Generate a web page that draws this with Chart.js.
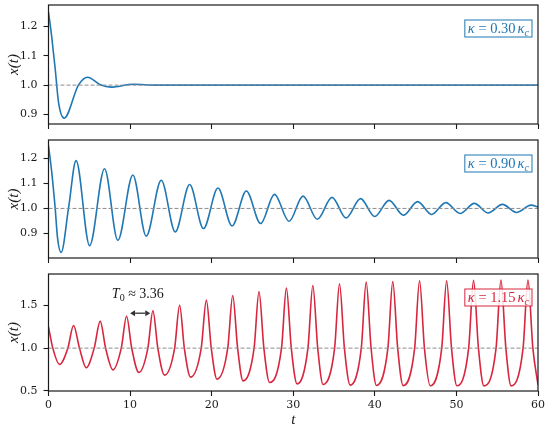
<!DOCTYPE html>
<html>
<head>
<meta charset="utf-8">
<script src="https://cdn.jsdelivr.net/npm/chart.js@4.4.1/dist/chart.umd.min.js"></script>
<style>
  html, body { margin: 0; padding: 0; background: #fff; }
  #fig { position: relative; width: 550px; height: 432px; }
  #fig canvas { position: absolute; left: 0; }
</style>
</head>
<body>
<div id="fig">
  <canvas id="panel1" width="550" height="135" style="top:0px"></canvas>
  <canvas id="panel2" width="550" height="135" style="top:135px"></canvas>
  <canvas id="panel3" width="550" height="162" style="top:270px"></canvas>
</div>
<script>
// ---- data ----
const X_TICKS = [0, 10, 20, 30, 40, 50, 60];
const Y_TICKS_1 = [0.9, 1.0, 1.1, 1.2];
const Y_TICKS_2 = [0.9, 1.0, 1.1, 1.2];
const Y_TICKS_3 = [0.5, 1.0, 1.5];
const KAPPA_LABELS = ['0.30', '0.90', '1.15'];
const REF_LEVEL = 1.0;

// kappa = 0.30 kc : strongly damped
const T1 = [0, 0.37, 0.82, 1.23, 1.92, 3.67, 4.78, 6.42, 7.65, 10.4, 13.2, 60];
const X1 = [1.25, 1.171, 1.056, 0.941, 0.887, 1.0, 1.027, 1.0, 0.993, 1.003, 1.0, 1.0];

// kappa = 0.90 kc : slowly damped
const T2 = [0, 0.37, 0.82, 1.1, 1.55, 2.45, 3.38, 5.04, 6.87, 8.5, 10.34, 11.98, 13.82, 15.54,
  17.3, 19.0, 20.77, 22.5, 24.25, 26.0, 27.7, 29.48, 31.2, 32.95, 34.75, 36.47, 38.25, 39.99,
  41.75, 43.5, 45.25, 46.95, 48.7, 50.45, 52.2, 53.9, 55.65, 57.35, 59.15, 60];
const X2 = [1.25, 1.152, 1.0, 0.885, 0.825, 1.0, 1.19, 0.852, 1.158, 0.873, 1.133, 0.89, 1.112, 0.907,
  1.095, 0.92, 1.081, 0.93, 1.069, 0.94, 1.056, 0.949, 1.049, 0.957, 1.044, 0.962, 1.039, 0.968,
  1.032, 0.973, 1.027, 0.976, 1.023, 0.98, 1.02, 0.982, 1.016, 0.984, 1.013, 1.006];

// kappa = 1.15 kc : growing to a limit cycle
const T3 = [0, 0.53, 1.35, 2.37, 3.07, 3.8, 4.62, 5.6, 6.34, 7.0, 7.9, 8.92, 9.57, 10.2, 11.08,
  12.18, 12.8, 13.4, 14.23, 15.46, 16.07, 16.65, 17.42, 18.72, 19.35, 19.95, 20.65, 21.97, 22.58,
  23.18, 23.85, 25.2, 25.8, 26.4, 27.1, 28.56, 29.16, 29.76, 30.47, 31.8, 32.4, 33.0, 33.66,
  35.07, 35.67, 36.27, 36.98, 38.34, 38.94, 39.54, 40.2, 41.6, 42.2, 42.8, 43.47, 44.88, 45.48,
  46.08, 46.79, 48.2, 48.8, 49.4, 50.06, 51.5, 52.1, 52.7, 53.37, 54.86, 55.46, 56.06, 56.7,
  58.17, 58.77, 59.37, 60];
const X3 = [1.25, 1.0, 0.81, 1.0, 1.265, 1.0, 0.77, 1.0, 1.317, 1.0, 0.745, 1.0, 1.375, 1.0, 0.714,
  1.0, 1.438, 1.0, 0.683, 1.0, 1.504, 1.0, 0.66, 1.0, 1.563, 1.0, 0.636, 1.0, 1.617,
  1.0, 0.616, 1.0, 1.664, 1.0, 0.597, 1.0, 1.704, 1.0, 0.581, 1.0, 1.735, 1.0, 0.573,
  1.0, 1.755, 1.0, 0.566, 1.0, 1.775, 1.0, 0.562, 1.0, 1.78, 1.0, 0.56, 1.0, 1.79,
  1.0, 0.558, 1.0, 1.79, 1.0, 0.558, 1.0, 1.795, 1.0, 0.557, 1.0, 1.80, 1.0, 0.557,
  1.0, 1.80, 1.0, 0.57];

// period annotation on the bottom panel (data units)
const PERIOD_TEXT = '3.36';
const ARROW_T = [10.0, 12.47];
const ARROW_Y = 1.41;
const PERIOD_TEXT_AT = [10.95, 1.645];

const BLUE = '#1f77b4';
const RED = '#d7263d';
const INK = '#1a1a1a';
const TICK_FONT = { family: '"DejaVu Serif", serif', size: 11 };
const MATH_FAMILY = '"Liberation Serif", "DejaVu Serif", serif';

function toPoints(ts, xs) {
  return ts.map((t, i) => ({ x: t, y: xs[i] }));
}

function mathFont(size, italic) {
  return (italic ? 'italic ' : '') + size + 'px ' + MATH_FAMILY;
}

function runsWidth(ctx, runs) {
  let w = 0;
  runs.forEach(r => {
    ctx.font = mathFont(r.size, r.italic);
    w += (r.gap || 0) + ctx.measureText(r.text).width;
  });
  return w;
}

function drawRuns(ctx, runs, x, y) {
  let cx = x;
  runs.forEach(r => {
    cx += r.gap || 0;
    ctx.font = mathFont(r.size, r.italic);
    ctx.fillText(r.text, cx, y + (r.dy || 0));
    cx += ctx.measureText(r.text).width;
  });
}

// box around the axes + the kappa label + the period arrow
const decorPlugin = {
  id: 'decor',
  afterDatasetsDraw(chart, args, opts) {
    const { ctx, chartArea: a } = chart;
    ctx.save();

    // kappa label box, upper right
    const runs = [
      { text: '\u03ba', italic: true, size: 14.5 },
      { text: ' = ', size: 14.5 },
      { text: opts.kappa, size: 14.5 },
      { text: '\u03ba', italic: true, size: 14.5, gap: 2 },
      { text: 'c', italic: true, size: 10, dy: 3 }
    ];
    const w = runsWidth(ctx, runs);
    const boxR = a.right - 6, boxT = a.top + 15, boxH = 17, padX = 3;
    const boxL = boxR - w - 2 * padX;
    ctx.fillStyle = 'rgba(255,255,255,0.85)';
    ctx.fillRect(boxL, boxT, boxR - boxL, boxH);
    ctx.strokeStyle = opts.color;
    ctx.lineWidth = 1;
    ctx.strokeRect(boxL, boxT, boxR - boxL, boxH);
    ctx.fillStyle = opts.color;
    ctx.textBaseline = 'alphabetic';
    drawRuns(ctx, runs, boxL + padX, boxT + 13);

    // period arrow
    if (opts.period) {
      const xs = chart.scales.x, ys = chart.scales.y;
      const x0 = xs.getPixelForValue(ARROW_T[0]);
      const x1 = xs.getPixelForValue(ARROW_T[1]);
      const yy = ys.getPixelForValue(ARROW_Y);
      const head = 5, hw = 3;
      ctx.strokeStyle = '#333';
      ctx.fillStyle = '#333';
      ctx.lineWidth = 1.3;
      ctx.beginPath();
      ctx.moveTo(x0 + head, yy);
      ctx.lineTo(x1 - head, yy);
      ctx.stroke();
      ctx.beginPath();
      ctx.moveTo(x0, yy); ctx.lineTo(x0 + head, yy - hw); ctx.lineTo(x0 + head, yy + hw); ctx.closePath();
      ctx.fill();
      ctx.beginPath();
      ctx.moveTo(x1, yy); ctx.lineTo(x1 - head, yy - hw); ctx.lineTo(x1 - head, yy + hw); ctx.closePath();
      ctx.fill();

      const pruns = [
        { text: 'T', italic: true, size: 14 },
        { text: '0', size: 10, dy: 3 },
        { text: ' \u2248 ', size: 14 },
        { text: PERIOD_TEXT, size: 14 }
      ];
      const pw = runsWidth(ctx, pruns);
      const cx = xs.getPixelForValue(PERIOD_TEXT_AT[0]);
      const cy = ys.getPixelForValue(PERIOD_TEXT_AT[1]);
      ctx.fillStyle = INK;
      drawRuns(ctx, pruns, cx - pw / 2, cy + 4.5);
    }

    // full frame
    ctx.strokeStyle = INK;
    ctx.lineWidth = 1.2;
    ctx.strokeRect(a.left, a.top, a.right - a.left, a.bottom - a.top);
    ctx.restore();
  }
};

function makePanel(id, cfg) {
  return new Chart(document.getElementById(id), {
    type: 'line',
    data: {
      datasets: [
        {
          data: [{ x: X_TICKS[0], y: REF_LEVEL }, { x: X_TICKS[X_TICKS.length - 1], y: REF_LEVEL }],
          borderColor: '#8c8c8c',
          borderWidth: 1,
          borderDash: [4, 2],
          pointRadius: 0
        },
        {
          data: cfg.points,
          borderColor: cfg.color,
          borderWidth: 1.6,
          pointRadius: 0,
          cubicInterpolationMode: 'monotone'
        }
      ]
    },
    options: {
      responsive: false,
      animation: false,
      devicePixelRatio: 1,
      layout: { padding: { top: cfg.padTop, right: 12, left: 0, bottom: 0 } },
      plugins: {
        legend: { display: false },
        tooltip: { enabled: false },
        decor: { kappa: cfg.kappa, color: cfg.color, period: cfg.period }
      },
      scales: {
        x: {
          type: 'linear',
          min: 0,
          max: 60,
          afterBuildTicks: s => { s.ticks = X_TICKS.map(v => ({ value: v })); },
          afterFit: s => { s.height = cfg.xAxisH; s.paddingLeft = 0; s.paddingRight = 0; },
          ticks: { display: cfg.xLabels, font: TICK_FONT, color: INK, padding: 3, maxRotation: 0 },
          grid: { drawOnChartArea: false, drawTicks: true, tickLength: 5, tickWidth: 1.1, tickColor: INK },
          border: { display: false },
          title: {
            display: cfg.xLabels,
            text: 't',
            color: INK,
            font: { family: MATH_FAMILY, size: 15, style: 'italic' },
            padding: { top: 0, bottom: 3 }
          }
        },
        y: {
          type: 'linear',
          min: cfg.yMin,
          max: cfg.yMax,
          afterBuildTicks: s => { s.ticks = cfg.yTicks.map(v => ({ value: v })); },
          afterFit: s => { s.width = 48.5; s.paddingTop = 0; s.paddingBottom = 0; },
          ticks: { font: TICK_FONT, color: INK, padding: 6, callback: v => v.toFixed(1) },
          grid: { drawOnChartArea: false, drawTicks: true, tickLength: 5, tickWidth: 1.1, tickColor: INK },
          border: { display: false },
          title: {
            display: true,
            text: 'x(t)',
            color: INK,
            font: { family: MATH_FAMILY, size: 15, style: 'italic' },
            padding: { top: 5, bottom: 0 }
          }
        }
      }
    },
    plugins: [decorPlugin]
  });
}

makePanel('panel1', {
  points: toPoints(T1, X1), color: BLUE, kappa: KAPPA_LABELS[0],
  yMin: 0.867, yMax: 1.274, yTicks: Y_TICKS_1, padTop: 5, xAxisH: 11, xLabels: false
});
makePanel('panel2', {
  points: toPoints(T2, X2), color: BLUE, kappa: KAPPA_LABELS[1],
  yMin: 0.803, yMax: 1.272, yTicks: Y_TICKS_2, padTop: 5, xAxisH: 12, xLabels: false
});
makePanel('panel3', {
  points: toPoints(T3, X3), color: RED, kappa: KAPPA_LABELS[2],
  yMin: 0.497, yMax: 1.87, yTicks: Y_TICKS_3, padTop: 4, xAxisH: 41, xLabels: true, period: true
});
</script>
</body>
</html>
